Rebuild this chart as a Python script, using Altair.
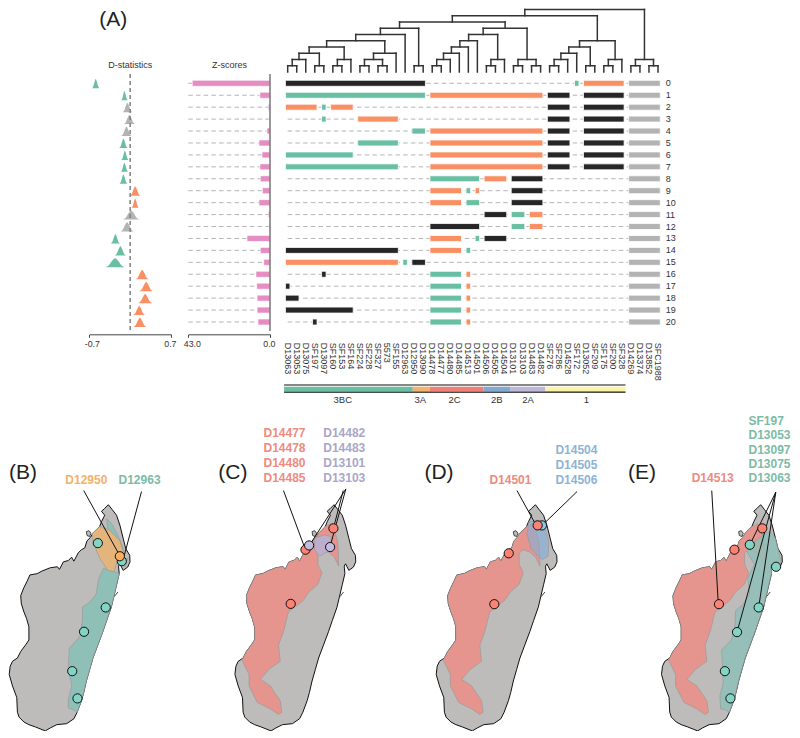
import altair as alt
import pandas as pd

FONT = "Liberation Sans"
GREEN, ORANGE, BLACK, GREY = "#69BFA3", "#FA8F63", "#262626", "#B3B3B3"
PINK = "#E58CC3"

samples = ["D13063","D13053","D13075","SF197","D13097","SF160","SF153","SF164","SF224","SF228","SF327","5573",
           "SF155","D12963","D12950","D13090","D14478","D14477","D14480","D14485","D14513","D14501","D14506",
           "D14505","D14504","D13101","D13103","D14483","D14482","SF276","SF286","D14528","SF172","D13052",
           "SF209","SF175","SF200","SF328","D14269","D13374","D13852","SFC1988"]

d_center = [-0.59,-0.098,-0.046,-0.012,-0.063,-0.115,-0.09,-0.098,-0.115,0.086,0.086,0.017,-0.052,-0.253,-0.167,-0.258,0.206,0.275,0.258,0.155,0.167]
d_halfwidth = [.066,.057,.086,.097,.092,.074,.063,.063,.069,.092,.063,.143,.115,.08,.097,.172,.115,.12,.12,.103,.115]
d_colors = [GREEN,GREEN,GREY,GREY,GREY,GREEN,GREEN,GREEN,GREEN,ORANGE,ORANGE,GREY,GREY,GREEN,GREEN,GREEN,ORANGE,ORANGE,ORANGE,ORANGE,ORANGE]
hump_offset = [-1,-0.62,-0.32,0,0.32,0.62,1]
hump_height = [0,0.22,0.68,1,0.68,0.22,0]

z_scores = [40.9,5.3,0.9,0.3,1.6,5.8,4.2,5.3,5.1,4.0,5.8,0.9,0.5,12.1,5.1,3.3,7.4,7.0,6.8,6.8,6.3]

K, O, G = BLACK, ORANGE, GREEN
common_black = [(29,31,K),(33,37,K)]
row_bars = [
 [(0,15,K),(32,32,G),(33,37,O)],
 [(0,15,G),(16,28,O)]+common_black,
 [(0,3,O),(4,4,G),(5,7,O)]+common_black,
 [(4,4,G),(8,12,O)]+common_black,
 [(14,15,G),(16,28,O)]+common_black,
 [(8,12,G),(16,28,O)]+common_black,
 [(0,7,G),(16,28,O)]+common_black,
 [(0,12,G),(16,28,O)]+common_black,
 [(16,21,G),(22,24,O),(25,28,K)],
 [(16,19,O),(20,20,G),(21,21,O),(25,28,K)],
 [(16,19,O),(20,21,G),(25,28,K)],
 [(22,24,K),(25,26,G),(27,28,O)],
 [(16,21,K),(25,26,G),(27,28,O)],
 [(16,19,O),(21,21,G),(22,24,K)],
 [(0,12,K),(16,19,O),(20,20,G)],
 [(0,12,O),(13,13,G),(14,15,K)],
 [(4,4,K),(16,19,G),(20,20,O)],
 [(0,0,K),(16,19,G),(20,20,O)],
 [(0,1,K),(16,19,G),(20,20,O)],
 [(0,7,K),(16,19,G),(20,20,O)],
 [(3,3,K),(16,19,G),(20,20,O)],
]

A = (7,(6,(5,(4,(3,(2,(1,0,1),2),(1,3,4)),(2,(1,5,6),7)),(3,(2,(1,8,9),(1,10,11)),12)),13),(1,14,15))
B = (7,(6,(5,(4,(3,(2,(1,16,17),18),19),20),21),(2,(1,22,23),24)),(2,(1,25,26),(1,27,28)))
C = (5,(4,(3,(2,(1,29,30),31),32),(1,33,34)),(2,(1,35,36),37))
D = (2,(1,38,39),(1,40,41))
tree = (10,(9,(8,A,B),C),D)

groups = ["3BC","3A","2C","2B","2A","1"]
group_edges = [-0.4,13.85,15.75,21.67,24.63,28.5,37.4]
group_colors = ["#69BFA3","#F3B36C","#EE8078","#82A9CF","#BDB8DA","#FBF3A6"]
group_label_x = [6.1,14.67,18.48,23.15,26.6,33.07]

# ---- shared row scale
ROWS = alt.Scale(domain=[0,20], range=[74.3,313])
def Y(f): return alt.Y(f, scale=ROWS, axis=None, title=None)

def text_layer(df, X, **kw):
    return alt.Chart(df).mark_text(font=FONT, **kw).encode(x=X, y=Y("y:Q"), text="t:N")

# ---- D panel
Dx = alt.Scale(domain=[-0.7,0.7], range=[81.3,163])
dx_axis = alt.Axis(values=[-0.7,0.7], offset=-74.7, grid=False, title=None, labelExpr="datum.value < 0 ? '-0.7' : '0.7'", tickSize=3,
                   domainColor="#444", tickColor="#444", labelColor="#333", labelFontSize=8.8, labelFont=FONT,
                   labelPadding=2, labelFlush=True, labelFlushOffset=5, domainWidth=1, tickWidth=1)
hump_rows = []
for r,(c,w,col) in enumerate(zip(d_center,d_halfwidth,d_colors)):
    for o,h in zip(hump_offset,hump_height):
        hump_rows.append(dict(row=r,x=c+o*w,y=r+0.42-0.77*h,y2=r+0.42,c=col))
humps = alt.Chart(pd.DataFrame(hump_rows)).mark_area(interpolate="monotone", stroke=None).encode(
    x=alt.X("x:Q",scale=Dx,axis=dx_axis), y=Y("y:Q"), y2="y2:Q", detail="row:N", color=alt.Color("c:N",scale=None))
zero = alt.Chart(pd.DataFrame([dict(x=0,y=-0.78,y2=20.75)])).mark_rule(color="#808080",strokeWidth=1.5,strokeDash=[4,3]).encode(
    x=alt.X("x:Q",scale=Dx,axis=dx_axis), y=Y("y:Q"), y2="y2:Q")
d_title = text_layer(pd.DataFrame([dict(x=0,y=-1.53,t="D-statistics")]), alt.X("x:Q",scale=Dx,axis=dx_axis), fontSize=9, color="#333")
panel_tag = text_layer(pd.DataFrame([dict(x=-0.29,y=-5.3,t="(A)")]), alt.X("x:Q",scale=Dx,axis=dx_axis), fontSize=21, color="#222", clip=True)
d_panel = alt.layer(humps,zero,d_title,panel_tag).properties(width=172,height=400)

# ---- Z panel
Zx = alt.Scale(domain=[43,0], range=[8.3,90])
zx_axis = alt.Axis(values=[43,0], offset=-74.7, grid=False, title=None, format=".1f", tickSize=3,
                   domainColor="#444", tickColor="#444", labelColor="#333", labelFontSize=8.8, labelFont=FONT,
                   labelPadding=2, labelFlush=True, labelFlushOffset=5, domainWidth=1, tickWidth=1)
ZX = alt.X("x:Q",scale=Zx,axis=zx_axis)
z_df = pd.DataFrame([dict(x=z,x2=0,y=r-0.25,y2=r+0.25) for r,z in enumerate(z_scores)])
z_dash = pd.DataFrame([dict(x=43,x2=0,y=r) for r in range(21)])
zd = alt.Chart(z_dash).mark_rule(color="#B5B5B5",strokeWidth=1,strokeDash=[4.5,3.2]).encode(x=ZX,x2="x2:Q",y=Y("y:Q"))
zb = alt.Chart(z_df).mark_rect(color=PINK,stroke="white",strokeWidth=0.6).encode(x=ZX,x2="x2:Q",y=Y("y:Q"),y2="y2:Q")
zv = alt.Chart(pd.DataFrame([dict(x=0,y=-0.78,y2=20.75)])).mark_rule(color="#6E6E6E",strokeWidth=1.4).encode(x=ZX,y=Y("y:Q"),y2="y2:Q")
z_title = text_layer(pd.DataFrame([dict(x=21.3,y=-1.53,t="Z-scores")]), ZX, fontSize=9, color="#333")
z_panel = alt.layer(zd,zb,zv,z_title).properties(width=98,height=400)

# ---- matrix panel
Mx = alt.Scale(domain=[0,41], range=[9.7,380])
MX = alt.X("x:Q",scale=Mx,axis=None,title=None)

dend = []
LEAF_Y, LEVEL = -0.947, 0.524
def walk(n):
    if isinstance(n,int):
        return float(n),0
    lev,a,b = n
    xa,la = walk(a); xb,lb = walk(b)
    dend.append(dict(x=xa,x2=xb,y=LEAF_Y-lev*LEVEL,y2=LEAF_Y-lev*LEVEL))
    dend.append(dict(x=xa,x2=xa,y=LEAF_Y-la*LEVEL,y2=LEAF_Y-lev*LEVEL))
    dend.append(dict(x=xb,x2=xb,y=LEAF_Y-lb*LEVEL,y2=LEAF_Y-lev*LEVEL))
    return (xa+xb)/2,lev
walk(tree)
dend_l = alt.Chart(pd.DataFrame(dend)).mark_rule(color="#333",strokeWidth=1.5,strokeCap="square").encode(x=MX,x2="x2:Q",y=Y("y:Q"),y2="y2:Q")

m_dash = alt.Chart(pd.DataFrame([dict(x=0,x2=38,y=r) for r in range(21)])).mark_rule(color="#B5B5B5",strokeWidth=1,strokeDash=[4.5,3.2]).encode(x=MX,x2="x2:Q",y=Y("y:Q"))
bars = []
for r,items in enumerate(row_bars):
    for a,b,col in items+[(38,41,GREY)]:
        bars.append(dict(x=a-0.25,x2=b+0.25,y=r-0.25,y2=r+0.25,c=col))
m_bars = alt.Chart(pd.DataFrame(bars)).mark_rect(stroke="white",strokeWidth=0.8).encode(x=MX,x2="x2:Q",y=Y("y:Q"),y2="y2:Q",color=alt.Color("c:N",scale=None))

row_text = text_layer(pd.DataFrame([dict(x=41.86,y=r,t=str(r)) for r in range(21)]),MX,fontSize=9,align="left",baseline="middle",color="#333")
sample_text = text_layer(pd.DataFrame([dict(x=i,y=21.73,t=s) for i,s in enumerate(samples)]),MX,fontSize=9,angle=90,align="left",baseline="middle",color="#333")

strip_df = pd.DataFrame([dict(x=group_edges[i],x2=group_edges[i+1],y=25.42,y2=25.78,c=group_colors[i]) for i in range(len(groups))])
strip = alt.Chart(strip_df).mark_rect().encode(x=MX,x2="x2:Q",y=Y("y:Q"),y2="y2:Q",color=alt.Color("c:N",scale=None))
strip_lines = alt.Chart(pd.DataFrame([dict(x=-0.4,x2=37.4,y=25.28),dict(x=-0.4,x2=37.4,y=25.87)])).mark_rule(color="#111",strokeWidth=1.2).encode(x=MX,x2="x2:Q",y=Y("y:Q"))
group_text = text_layer(pd.DataFrame([dict(x=x,y=26.54,t=g) for x,g in zip(group_label_x,groups)]),MX,fontSize=9.5,color="#333")

matrix = alt.layer(dend_l,m_dash,m_bars,row_text,sample_text,strip,strip_lines,group_text).properties(width=514,height=400)

# ---- maps (outline, in map units)
land = [(327,18),(338,32),(352,50),(362,80),(372,120),(380,152),(392,172),(393,192),(386,208),(372,218),(362,198),(358,205),(360,228),(352,262),(336,330),(322,370),(310,405),(295,445),(280,485),(270,520),(260,555),(252,590),(245,615),(232,650),(222,670),(200,685),(170,688),(150,698),(135,707),(105,695),(85,688),(70,680),(55,665),(50,650),(48,605),(35,570),(25,535),(28,510),(35,495),(50,485),(60,465),(75,445),(85,430),(85,390),(78,365),(70,345),(62,320),(60,295),(70,270),(80,250),(88,232),(110,228),(125,220),(150,210),(172,207),(178,215),(190,192),(205,188),(215,178),(222,190),(235,165),(245,155),(255,150),(262,128),(272,118),(280,105),(300,85),(306,70),(316,50),(306,38),(315,30)]
nosy = [(260,100),(268,97),(274,105),(270,115),(262,112)]
isle = [(345,298),(356,284)]
red = [(300,85),(318,75),(328,95),(338,130),(340,165),(341,205),(328,178),(310,162),(290,155),(278,165),(278,200),(290,225),(278,260),(250,285),(233,310),(188,345),(173,405),(158,445),(163,495),(128,520),(103,550),(133,570),(163,615),(168,650),(158,657),(133,640),(93,620),(68,570),(68,535),(46,490),(50,485),(60,465),(75,445),(85,430),(85,390),(78,365),(70,345),(62,320),(60,295),(70,270),(80,250),(88,232),(110,228),(125,220),(150,210),(172,207),(178,215),(190,192),(205,188),(215,178),(222,190),(235,165),(245,155),(255,150),(262,128),(272,118),(280,105)]
teal_b = [(312,212),(297,245),(290,290),(270,315),(248,330),(248,370),(240,420),(208,455),(205,520),(216,570),(205,610),(205,637),(218,642),(232,650),(245,615),(252,590),(260,555),(270,520),(280,485),(295,445),(310,405),(322,370),(336,330),(352,262),(360,228),(345,222)]
teal_b2 = [(322,60),(340,80),(360,120),(372,150),(375,190),(360,170),(345,120),(325,90)]
orange_b = [(300,85),(278,105),(280,130),(300,180),(325,218),(345,222),(352,195),(362,175),(372,160),(362,128),(330,95)]
orange_b2 = [(365,182),(386,182),(378,208),(368,198)]
purple_c = [(268,120),(298,110),(318,115),(318,160),(298,165),(283,175),(268,155)]
blue_d = [(333,65),(308,70),(301,105),(313,150),(338,178),(348,185),(366,175),(368,130),(353,80),(343,68)]
teal_e = [(285,160),(308,200),(288,240),(293,290),(273,322),(251,340),(248,400),(238,430),(208,460),(213,560),(203,600),(205,640),(218,642),(232,650),(245,615),(252,590),(260,555),(270,520),(280,485),(295,445),(310,405),(322,370),(336,330),(352,262),(360,228),(362,198),(372,218),(386,208),(388,190),(380,152),(372,120),(355,100),(340,105),(310,130)]

LAND, RED_F, TEAL_F = "#BEBCBB", "#E5958D", "#8FC0B8"
C_TEAL, C_ORG, C_RED, C_PUR, C_BLU = "#7CBBA6","#F4B168","#F08A7E","#A9A6C8","#8DB4D5"

MAP_SCALE, MAP_TX, MAP_TY = 0.3283, -7, 89.8
map_specs = {
 "B": dict(width=210, shift=0,
   regions=[(teal_b,TEAL_F,1),(teal_b2,TEAL_F,1),(orange_b,"#E3B57C",1),(orange_b2,"#E3B57C",1)],
   points=[(295,135,"#82D5C4"),(368,190,"#82D5C4"),(319,331,"#82D5C4"),(253,405,"#82D5C4"),(217,525,"#82D5C4"),(233,608,"#82D5C4"),(362,175,"#FDAE5C")],
   leads=[((252,-25),(360,170)),((428,-22),(372,185))],
   labels=[(260,-57,"D12950",C_ORG),(422,-57,"D12963",C_TEAL)],
   tag=(67,-78.6,"(B)")),
 "C": dict(width=206, shift=15.7,
   regions=[(red,RED_F,1),(purple_c,"#BDAFCB",1)],
   points=[(325,90,"#FC8274"),(240,155,"#FC8274"),(195,320,"#FC8274"),(251,142,"#C2BCE0"),(315,147,"#C2BCE0")],
   leads=[((173,-25),(238,150)),((363,-30),(253,140)),((363,-30),(315,145)),((355,-25),(325,90))],
   labels=[(176,-200,"D14477",C_RED),(176,-154,"D14478",C_RED),(176,-108,"D14480",C_RED),(176,-62,"D14485",C_RED),
           (358,-200,"D14482",C_PUR),(358,-154,"D14483",C_PUR),(358,-108,"D13101",C_PUR),(358,-62,"D13103",C_PUR)],
   tag=(19,-78.6,"(C)")),
 "D": dict(width=204, shift=11,
   regions=[(red,RED_F,1),(blue_d,"#82AEDA",0.62)],
   points=[(347,81,"#8FC5E8"),(334,81,"#FC8274"),(246,166,"#FC8274"),(202,321,"#FC8274")],
   leads=[((271,-25),(329,80)),((454,-22),(359,70))],
   labels=[(251,-57,"D14501",C_RED),(452,-148,"D14504",C_BLU),(452,-103,"D14505",C_BLU),(452,-57,"D14506",C_BLU)],
   tag=(33.5,-78.6,"(D)")),
 "E": dict(width=164, shift=32.3,
   regions=[(red,RED_F,1),(teal_e,TEAL_F,0.82)],
   points=[(332,90,"#FC8274"),(247,155,"#FC8274"),(200,321,"#FC8274"),(294,140,"#82D5C4"),(374,207,"#82D5C4"),(321,331,"#82D5C4"),(255,406,"#82D5C4"),(218,525,"#82D5C4"),(235,608,"#82D5C4")],
   leads=[((178,-25),(198,320)),((373,-20),(294,140)),((373,-20),(255,406)),((373,-20),(321,331))],
   labels=[(181,-62,"D14513",C_RED),(290,-238,"SF197",C_TEAL),(290,-194,"D13053",C_TEAL),(290,-149,"D13097",C_TEAL),(290,-105,"D13075",C_TEAL),(290,-62,"D13063",C_TEAL)],
   tag=(-34.4,-78.6,"(E)")),
}

def map_panel(spec, key):
    # all panels share one projection, so each panel's place is set by a map-unit shift
    dx = spec["shift"]/MAP_SCALE
    def moved(pts):
        return [[q[0]+dx,q[1]] for q in pts]
    def poly(pts):
        p = moved(pts)
        return {"type":"Feature","properties":{},"geometry":{"type":"Polygon","coordinates":[p+[p[0]]]}}
    def linefeat(pts):
        return {"type":"Feature","properties":{},"geometry":{"type":"LineString","coordinates":moved(pts)}}
    proj = dict(type="identity", scale=MAP_SCALE, translate=[MAP_TX,MAP_TY])
    ls = []
    def shape(feats, **kw):
        return alt.Chart(alt.InlineData(values=feats)).mark_geoshape(**kw).project(**proj)
    ls.append(shape([poly(land)],fill=LAND,stroke="#111",strokeWidth=1))
    ls.append(shape([poly(nosy)],fill=LAND,stroke="#222",strokeWidth=0.8))
    ls.append(shape([linefeat(isle)],filled=False,stroke="#444",strokeWidth=1))
    for pts,col,op in spec["regions"]:
        ls.append(shape([poly(pts)],fill=col,fillOpacity=op,stroke="#999",strokeWidth=0.7))
    ls.append(shape([linefeat(l) for l in spec["leads"]],filled=False,stroke="#111",strokeWidth=1))
    pdf = pd.DataFrame(spec["points"],columns=["lon","lat","c"])
    pdf["lon"] += dx
    ls.append(alt.Chart(pdf).mark_point(filled=True,size=85,stroke="#111",strokeWidth=1,opacity=1).encode(
        longitude="lon:Q",latitude="lat:Q",color=alt.Color("c:N",scale=None)).project(**proj))
    ldf = pd.DataFrame(spec["labels"],columns=["lon","lat","t","c"])
    ldf["lon"] += dx
    al = "left" if key=="E" else "center"
    cols = ldf["t"].str.startswith("D14513")
    ls.append(alt.Chart(ldf[~cols]).mark_text(font=FONT,fontWeight="bold",fontSize=12,align=al,baseline="middle").encode(
        longitude="lon:Q",latitude="lat:Q",text="t:N",color=alt.Color("c:N",scale=None)).project(**proj))
    if cols.any():
        ls.append(alt.Chart(ldf[cols]).mark_text(font=FONT,fontWeight="bold",fontSize=12,align="center",baseline="middle").encode(
            longitude="lon:Q",latitude="lat:Q",text="t:N",color=alt.Color("c:N",scale=None)).project(**proj))
    tdf = pd.DataFrame([dict(lon=spec["tag"][0]+dx,lat=spec["tag"][1],t=spec["tag"][2])])
    ls.append(alt.Chart(tdf).mark_text(font=FONT,fontSize=21,color="#222",baseline="middle").encode(
        longitude="lon:Q",latitude="lat:Q",text="t:N").project(**proj))
    return alt.layer(*ls).properties(width=spec["width"],height=322)

top = alt.hconcat(d_panel,z_panel,matrix,spacing=0,bounds="flush")
bottom = alt.hconcat(*[map_panel(map_specs[k],k) for k in "BCDE"],spacing=0,bounds="flush")
chart = alt.vconcat(top,bottom,spacing=0).properties(padding=0).configure_view(stroke=None)
chart.save("out.html", embed_options={"renderer":"svg","actions":False})
